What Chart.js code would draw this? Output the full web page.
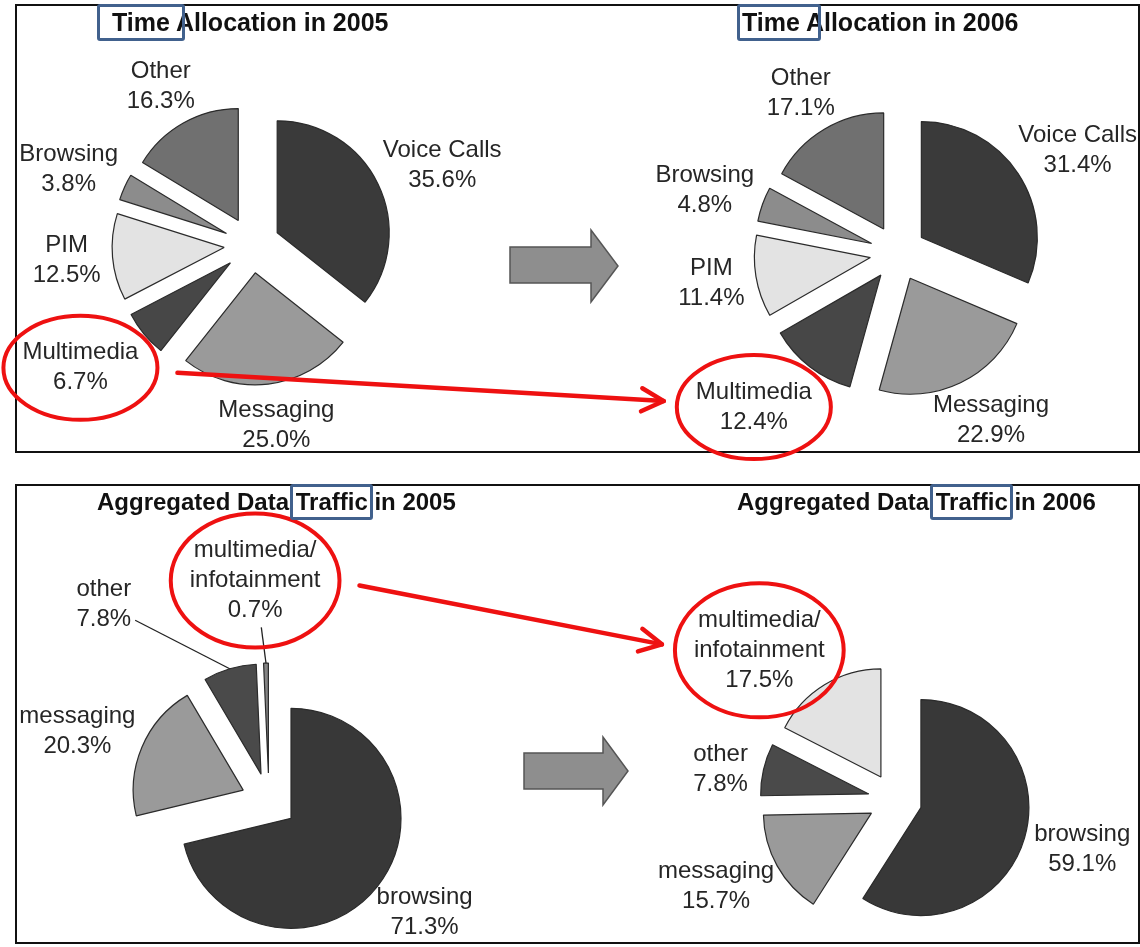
<!DOCTYPE html>
<html>
<head>
<meta charset="utf-8">
<script src="https://cdn.jsdelivr.net/npm/chart.js@4.4.1/dist/chart.umd.min.js"></script>
<style>
  body { margin: 0; background: #fff; overflow: hidden; }
  #stage { position: relative; width: 1140px; height: 947px; overflow: hidden; font-family: "Liberation Sans", Arial, sans-serif; }
  .panel { position: absolute; border: 2px solid #111; box-sizing: border-box; }
  canvas { position: absolute; }
  .title { position: absolute; font-weight: bold; font-size: 25px; color: #111; white-space: nowrap; line-height: 37px; height: 37px; }
  .title.small { font-size: 24px; height: 36px; line-height: 36px; }
  .title span { position: relative; display: inline-block; vertical-align: top; }
  .title span::after { content: ''; position: absolute; top: 0; bottom: 0; left: var(--l); right: var(--r);
                       border: 3px solid #41618d; border-radius: 3px; }
</style>
</head>
<body>
<div id="stage">
  <div class="panel" style="left:15px;top:4px;width:1125px;height:449px"></div>
  <div class="panel" style="left:15px;top:484px;width:1125px;height:460px"></div>

  <svg width="1140" height="947" style="position:absolute;left:0;top:0">
    <polygon points="510,247 591,247 591,230 618,266 591,302 591,283 510,283" fill="#8e8e8e" stroke="#555" stroke-width="1.5"/>
    <polygon points="524,753 603,753 603,737 628,771 603,805 603,789 524,789" fill="#8e8e8e" stroke="#555" stroke-width="1.5"/>
  </svg>

  <canvas id="time2005" width="504" height="490" style="left:0px;top:0px"></canvas>
  <canvas id="time2006" width="520" height="506" style="left:638px;top:0px"></canvas>
  <canvas id="traffic2005" width="540" height="592" style="left:-1px;top:505px"></canvas>
  <canvas id="traffic2006" width="530" height="480" style="left:630px;top:560px"></canvas>

  <div class="title" style="left:112px;top:4px"><span style="--l:-15px;--r:-15px">Time</span> Allocation in 2005</div>
  <div class="title" style="left:742px;top:4px"><span style="--l:-5px;--r:-21px">Time</span> Allocation in 2006</div>
  <div class="title small" style="left:97px;top:484px">Aggregated Data <span style="--l:-6px;--r:-5px">Traffic</span> in 2005</div>
  <div class="title small" style="left:737px;top:484px">Aggregated Data <span style="--l:-6px;--r:-5px">Traffic</span> in 2006</div>

  <canvas id="overlay" width="1140" height="947" style="left:0;top:0;z-index:2"></canvas>
</div>

<script>
const timeCategories = ['Voice Calls', 'Messaging', 'Multimedia', 'PIM', 'Browsing', 'Other'];
const time2005 = [35.6, 25.0, 6.7, 12.5, 3.8, 16.3];
const time2006 = [31.4, 22.9, 12.4, 11.4, 4.8, 17.1];

const trafficCategories = ['browsing', 'messaging', 'other', 'multimedia/infotainment'];
const traffic2005 = [71.3, 20.3, 7.8, 0.7];
const traffic2006 = [59.1, 15.7, 7.8, 17.5];

const timeColors = ['#3a3a3a', '#9a9a9a', '#474747', '#e3e3e3', '#8c8c8c', '#707070'];
const traffic2005Colors = ['#383838', '#9a9a9a', '#4a4a4a', '#858585'];
const traffic2006Colors = ['#383838', '#9a9a9a', '#4a4a4a', '#e3e3e3'];

// pulls every slice out from the centre, then writes the "name / xx.x%" labels
const explodedPie = {
    id: 'explodedPie',
    beforeDatasetDraw(chart, args, opts) {
        const ctx = chart.ctx;
        args.meta.data.forEach(arc => {
            const mid = (arc.startAngle + arc.endAngle) / 2;
            ctx.save();
            ctx.translate(Math.cos(mid) * opts.distance, Math.sin(mid) * opts.distance);
            arc.draw(ctx);
            ctx.restore();
        });
        return false; // slices already drawn
    },
    afterDatasetsDraw(chart, args, opts) {
        const ctx = chart.ctx;
        const meta = chart.getDatasetMeta(0);
        const values = chart.data.datasets[0].data;
        const callouts = opts.callouts || {};
        ctx.save();
        ctx.font = opts.font;
        ctx.textAlign = 'center';
        ctx.textBaseline = 'middle';
        meta.data.forEach((arc, i) => {
            const mid = (arc.startAngle + arc.endAngle) / 2;
            const edge = arc.outerRadius + opts.distance;
            const lines = chart.data.labels[i].replace('/', '/\n').split('\n');
            lines.push(values[i].toFixed(1) + '%');
            const w = Math.max(...lines.map(t => ctx.measureText(t).width));
            const h = lines.length * opts.lineHeight;
            let bx, by;
            const c = callouts[i];
            if (c) {
                const a = c.angle * Math.PI / 180 - Math.PI / 2;
                bx = arc.x + c.dist * Math.cos(a);
                by = arc.y + c.dist * Math.sin(a);
            } else {
                const d = edge + opts.gap;
                bx = arc.x + Math.cos(mid) * (d + w / 2);
                by = arc.y + Math.sin(mid) * d + Math.sin(mid) * h / 2;
            }
            if (c && c.line) {
                const px = arc.x + edge * Math.cos(mid);
                const py = arc.y + edge * Math.sin(mid);
                const dx = px - bx, dy = py - by;
                const t = Math.min((w / 2 + 4) / Math.abs(dx || 1e-6), (h / 2 + 2) / Math.abs(dy || 1e-6));
                ctx.beginPath();
                ctx.moveTo(px, py);
                ctx.lineTo(bx + dx * t, by + dy * t);
                ctx.strokeStyle = '#222';
                ctx.lineWidth = 1.3;
                ctx.stroke();
            }
            ctx.fillStyle = opts.color;
            lines.forEach((t, k) => ctx.fillText(t, bx, by - h / 2 + opts.lineHeight * (k + 0.5)));
            if (opts.highlight === i) {
                const rx = w / 2 + 19, ry = h / 2 + 22;
                ctx.beginPath();
                ctx.ellipse(bx, by, rx, ry, 0, 0, Math.PI * 2);
                ctx.strokeStyle = '#ee1111';
                ctx.lineWidth = 4;
                ctx.stroke();
                chart.$mark = { x: bx + chart.canvas.offsetLeft, y: by + chart.canvas.offsetTop, rx: rx, ry: ry };
            }
        });
        ctx.restore();
    }
};

function makePie(id, labels, values, colors, radius, distance, highlight, callouts) {
    return new Chart(document.getElementById(id).getContext('2d'), {
        type: 'pie',
        data: {
            labels: labels,
            datasets: [{
                data: values,
                backgroundColor: colors,
                borderColor: '#2b2b2b',
                borderWidth: 1.2
            }]
        },
        options: {
            responsive: false,
            animation: false,
            events: [],
            radius: radius,
            layout: { padding: 0 },
            plugins: {
                legend: { display: false },
                tooltip: { enabled: false },
                explodedPie: {
                    distance: distance,
                    gap: 12,
                    font: '24px "Liberation Sans", Arial, sans-serif',
                    color: '#262626',
                    lineHeight: 30,
                    highlight: highlight,
                    callouts: callouts
                }
            }
        },
        plugins: [explodedPie]
    });
}

const c1 = makePie('time2005', timeCategories, time2005, timeColors, 112, 28, 2,
    { 2: { angle: 234.4, dist: 211 } });
const c2 = makePie('time2006', timeCategories, time2006, timeColors, 116, 28, 2,
    { 2: { angle: 223.1, dist: 211 } });
const c3 = makePie('traffic2005', trafficCategories, traffic2005, traffic2005Colors, 110, 28, 3,
    { 2: { angle: 320, dist: 257, line: true }, 3: { angle: 356.4, dist: 221, line: true } });
const c4 = makePie('traffic2006', trafficCategories, traffic2006, traffic2006Colors, 108, 27, 3,
    { 2: { angle: 279.8, dist: 177 }, 3: { angle: 317.8, dist: 202 } });

// red arrows from the 2005 highlight to the 2006 highlight
const o = document.getElementById('overlay').getContext('2d');
function redArrow(a, b) {
    if (!a || !b) return;
    const x1 = a.x + a.rx + 20, y1 = a.y + 5;
    const x2 = b.x - b.rx - 13, y2 = b.y - 6;
    const ang = Math.atan2(y2 - y1, x2 - x1);
    o.strokeStyle = '#ee1111';
    o.lineWidth = 4.5;
    o.lineCap = 'round';
    o.lineJoin = 'round';
    o.beginPath();
    o.moveTo(x1, y1);
    o.lineTo(x2, y2);
    o.stroke();
    o.beginPath();
    o.moveTo(x2 - 25 * Math.cos(ang - 0.48), y2 - 25 * Math.sin(ang - 0.48));
    o.lineTo(x2, y2);
    o.lineTo(x2 - 25 * Math.cos(ang + 0.48), y2 - 25 * Math.sin(ang + 0.48));
    o.stroke();
}
redArrow(c1.$mark, c2.$mark);
redArrow(c3.$mark, c4.$mark);
</script>
</body>
</html>
